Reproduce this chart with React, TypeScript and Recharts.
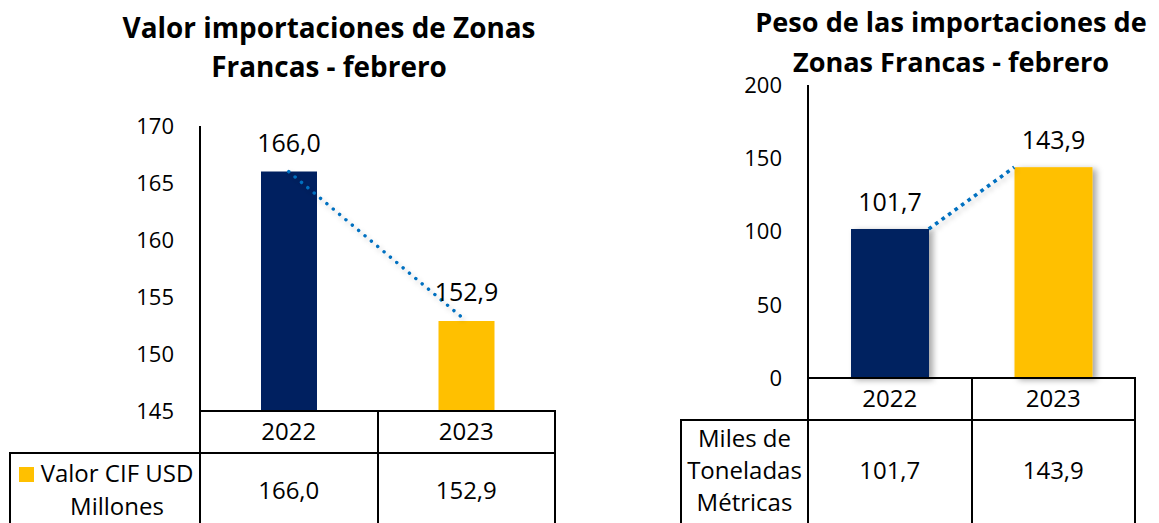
import { ComposedChart, Bar, Line, XAxis, YAxis, Cell, LabelList } from "recharts";

const years = ["2022", "2023"];
const valorCif = [166.0, 152.9];
const pesoMilesTon = [101.7, 143.9];
const valorTicks = [145, 150, 155, 160, 165, 170];
const pesoTicks = [0, 50, 100, 150, 200];
const barColors = ["#002060", "#FFC000"];

const valorData = years.map((year, i) => ({ year, value: valorCif[i] }));
const pesoData = years.map((year, i) => ({ year, value: pesoMilesTon[i] }));

const FONT = "'Open Sans', sans-serif";
const LINE_BLUE = "#0070C0";
const fmt = (v: any) => Number(v).toFixed(1).replace(".", ",");

// chart frames (page coordinates)
const LEFT = { x: 0, w: 580, h: 523, plotLeft: 200, plotRight: 555, plotTop: 126, plotBottom: 411, headerH: 42, tableLeft: 10 };
const RIGHT = { x: 600, w: 559, h: 523, plotLeft: 808, plotRight: 1135, plotTop: 85, plotBottom: 378, headerH: 42, tableLeft: 681 };
const PESO_BAR = 78;

function HLine({ x1, x2, y }: { x1: number; x2: number; y: number }) {
  return <div style={{ position: "absolute", left: x1 - 1, top: y - 1, width: x2 - x1 + 2, height: 2, background: "#000" }} />;
}

function VLine({ x, y1, y2 }: { x: number; y1: number; y2: number }) {
  return <div style={{ position: "absolute", left: x - 1, top: y1 - 1, width: 2, height: y2 - y1 + 2, background: "#000" }} />;
}

// text block placed by the baseline of its first line
function TextBlock({ cx, baseline, lines, fs = 24, lh = 32, bold = false, w = 500 }: any) {
  const top = baseline - 0.5 * (lh - 1.362 * fs) - 1.069 * fs;
  return (
    <div
      style={{
        position: "absolute",
        left: cx - w / 2,
        width: w,
        top,
        fontSize: fs,
        lineHeight: `${lh}px`,
        fontWeight: bold ? 700 : 400,
        textAlign: "center",
        whiteSpace: "nowrap",
        color: "#000",
      }}
    >
      {lines.map((l: string, i: number) => (
        <div key={i}>{l}</div>
      ))}
    </div>
  );
}

function TableGrid({ f }: { f: typeof LEFT }) {
  const band = (f.plotRight - f.plotLeft) / years.length;
  const rowY = f.plotBottom + f.headerH;
  return (
    <>
      {years.map((_, i) => (
        <VLine key={i} x={f.plotLeft + band * i} y1={f.plotBottom} y2={523} />
      ))}
      <VLine x={f.plotRight} y1={f.plotBottom} y2={523} />
      <HLine x1={f.tableLeft} x2={f.plotRight} y={rowY} />
      <VLine x={f.tableLeft} y1={rowY} y2={523} />
    </>
  );
}

// connector between bar tops in the weight chart (right edge -> left edge)
let prevPoint: { x: number; y: number } | null = null;
const pesoConnector = (props: any) => {
  const { index, cx, cy } = props;
  if (index === 0) {
    prevPoint = { x: cx, y: cy };
    return <g key={`c-${index}`} />;
  }
  const p = prevPoint;
  prevPoint = { x: cx, y: cy };
  if (!p) return <g key={`c-${index}`} />;
  return (
    <line
      key={`c-${index}`}
      x1={p.x + PESO_BAR / 2}
      y1={p.y}
      x2={cx - PESO_BAR / 2}
      y2={cy}
      stroke={LINE_BLUE}
      strokeWidth={3.6}
      strokeDasharray="3.6 4.4"
      filter="url(#lineShadow)"
    />
  );
};

const shadowBar = (props: any) => {
  const { x, y, width, height, fill } = props;
  return <rect x={x} y={y} width={width} height={height} fill={fill} filter="url(#barShadow)" />;
};

const tickStyle = { fill: "#000", fontSize: 22, fontFamily: FONT };
const catStyle = { fill: "#000", fontSize: 24, fontFamily: FONT };
const axisStyle = { stroke: "#000", strokeWidth: 2 };

function margins(f: typeof LEFT) {
  return {
    top: f.plotTop,
    right: f.x + f.w - f.plotRight,
    bottom: f.h - f.plotBottom - f.headerH,
    left: 0,
  };
}

export default function App() {
  const lBand = (LEFT.plotRight - LEFT.plotLeft) / years.length;
  const rBand = (RIGHT.plotRight - RIGHT.plotLeft) / years.length;
  return (
    <div
      style={{
        position: "absolute",
        left: 0,
        top: 0,
        width: 1159,
        height: 523,
        overflow: "hidden",
        background: "#fff",
        fontFamily: FONT,
      }}
    >
      <svg width={0} height={0} style={{ position: "absolute" }}>
        <defs>
          <filter id="barShadow" x="-30%" y="-10%" width="160%" height="130%">
            <feDropShadow dx={4} dy={2} stdDeviation={3} floodColor="#000" floodOpacity={0.35} />
          </filter>
          <filter id="lineShadow" x="-20%" y="-40%" width="140%" height="180%">
            <feDropShadow dx={2} dy={3} stdDeviation={2.5} floodColor="#000" floodOpacity={0.22} />
          </filter>
        </defs>
      </svg>

      {/* titles */}
      <TextBlock cx={329} baseline={38.5} lines={["Valor importaciones de Zonas", "Francas - febrero"]} fs={27.9} lh={39.5} bold />
      <TextBlock cx={951} baseline={32.3} lines={["Peso de las importaciones de", "Zonas Francas - febrero"]} fs={27.1} lh={40.4} bold />

      {/* left chart: value */}
      <div style={{ position: "absolute", left: LEFT.x, top: 0 }}>
        <ComposedChart width={LEFT.w} height={LEFT.h} data={valorData} margin={margins(LEFT)}>
          <XAxis dataKey="year" height={LEFT.headerH} tickLine={false} tickMargin={6} axisLine={axisStyle} tick={catStyle} />
          <YAxis
            width={LEFT.plotLeft - LEFT.x}
            domain={[145, 170]}
            ticks={valorTicks}
            allowDataOverflow
            tickLine={false}
            tickMargin={20}
            axisLine={axisStyle}
            tick={tickStyle}
          />
          <Bar dataKey="value" barSize={56} isAnimationActive={false}>
            {valorData.map((d, i) => (
              <Cell key={d.year} fill={barColors[i]} />
            ))}
            <LabelList dataKey="value" position="top" offset={20} formatter={fmt} fill="#000" fontSize={25} fontFamily={FONT} />
          </Bar>
          <Line
            dataKey="value"
            stroke={LINE_BLUE}
            strokeWidth={3.4}
            strokeDasharray="0.1 8.2"
            strokeLinecap="round"
            dot={false}
            activeDot={false}
            filter="url(#lineShadow)"
            isAnimationActive={false}
          />
        </ComposedChart>
      </div>
      <TableGrid f={LEFT} />
      <div style={{ position: "absolute", left: 19, top: 467, width: 15, height: 15, background: barColors[1] }} />
      <TextBlock cx={117} baseline={482.3} lines={["Valor CIF USD", "Millones"]} lh={33} w={200} />
      {valorCif.map((v, i) => (
        <TextBlock key={i} cx={LEFT.plotLeft + lBand * (i + 0.5)} baseline={499.3} lines={[fmt(v)]} w={170} />
      ))}

      {/* right chart: weight */}
      <div style={{ position: "absolute", left: RIGHT.x, top: 0 }}>
        <ComposedChart width={RIGHT.w} height={RIGHT.h} data={pesoData} margin={margins(RIGHT)}>
          <XAxis dataKey="year" height={RIGHT.headerH} tickLine={false} tickMargin={6} axisLine={axisStyle} tick={catStyle} />
          <YAxis
            width={RIGHT.plotLeft - RIGHT.x}
            domain={[0, 200]}
            ticks={pesoTicks}
            tickLine={false}
            tickMargin={20}
            axisLine={axisStyle}
            tick={tickStyle}
          />
          <Bar dataKey="value" barSize={PESO_BAR} shape={shadowBar} isAnimationActive={false}>
            {pesoData.map((d, i) => (
              <Cell key={d.year} fill={barColors[i]} />
            ))}
            <LabelList dataKey="value" position="top" offset={18} formatter={fmt} fill="#000" fontSize={25} fontFamily={FONT} />
          </Bar>
          <Line dataKey="value" stroke="none" dot={pesoConnector} activeDot={false} isAnimationActive={false} />
        </ComposedChart>
      </div>
      <TableGrid f={RIGHT} />
      <TextBlock cx={(RIGHT.tableLeft + RIGHT.plotLeft) / 2} baseline={447.3} lines={["Miles de", "Toneladas", "Métricas"]} lh={32.2} w={160} />
      {pesoMilesTon.map((v, i) => (
        <TextBlock key={i} cx={RIGHT.plotLeft + rBand * (i + 0.5)} baseline={479.3} lines={[fmt(v)]} w={160} />
      ))}
    </div>
  );
}
